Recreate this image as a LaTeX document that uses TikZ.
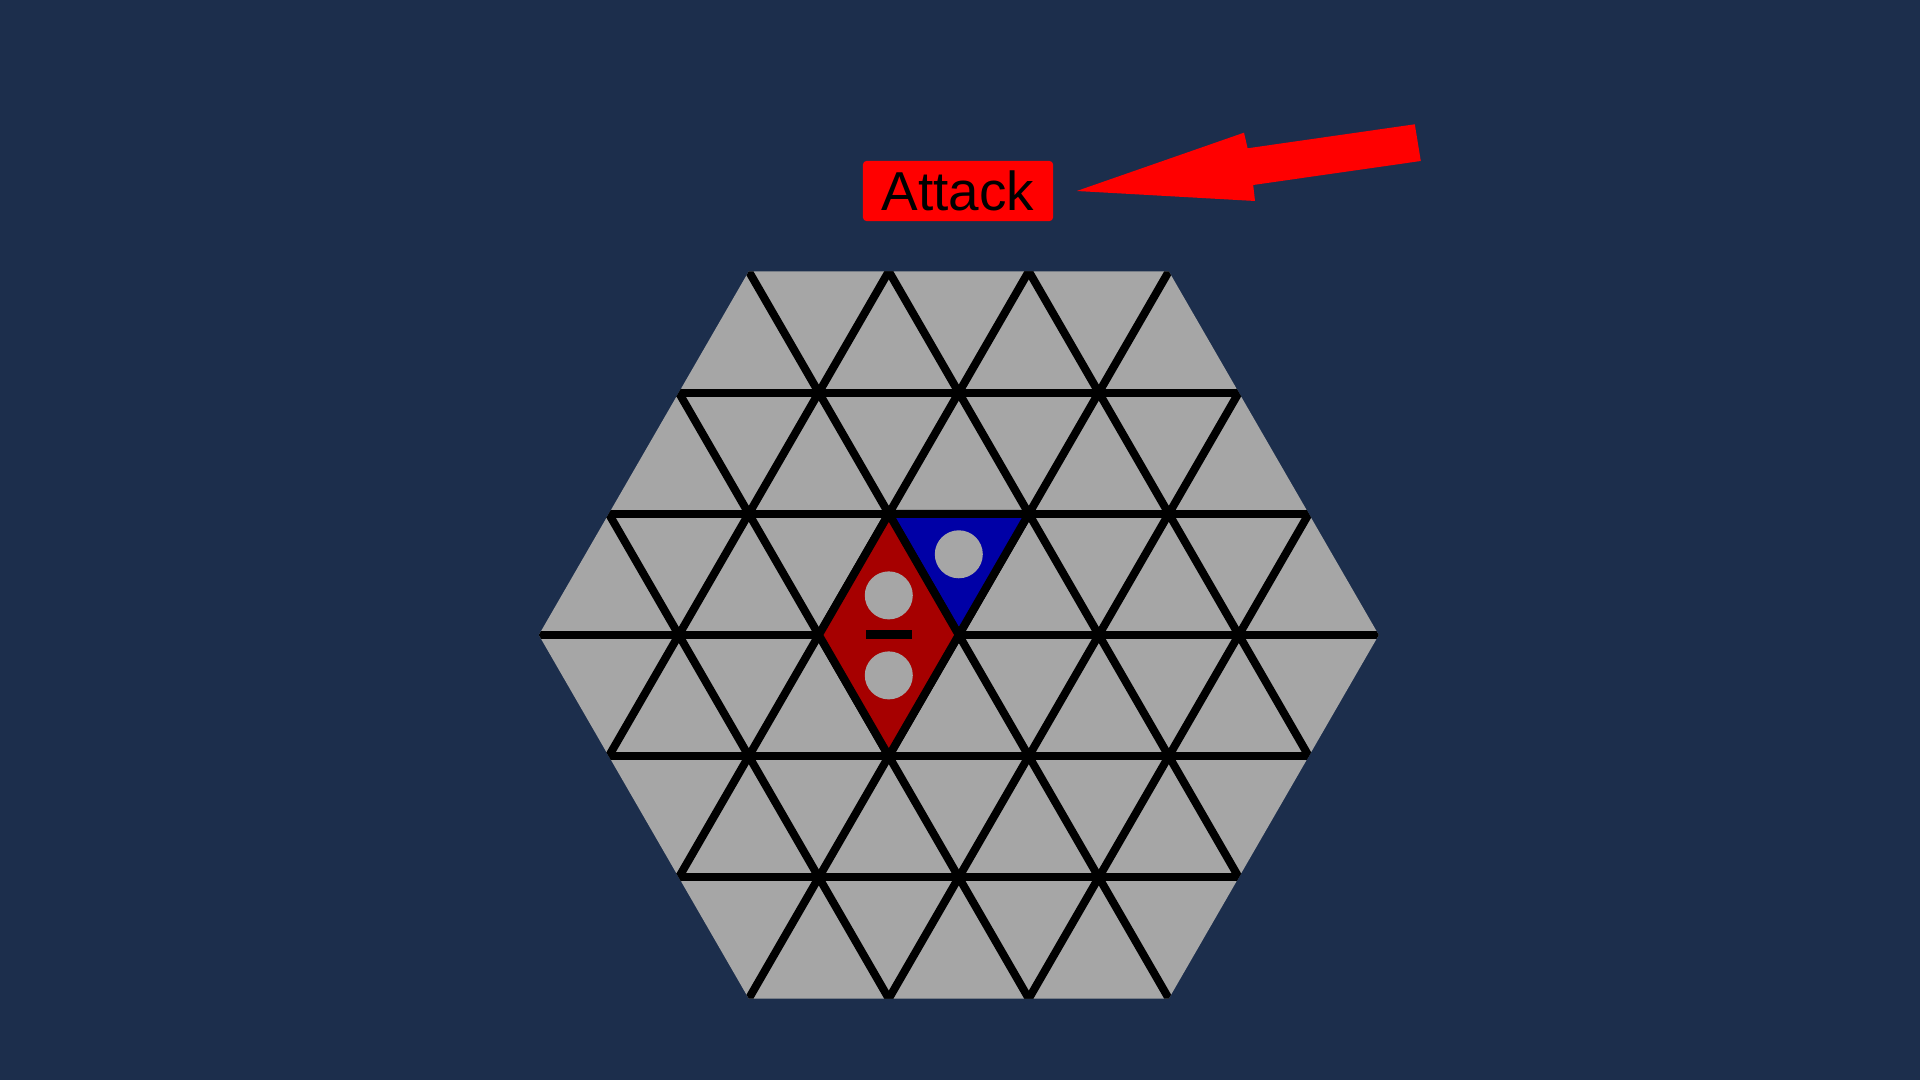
\documentclass[tikz,border=0pt]{standalone}
\usepackage{fontspec}
\setmainfont{Liberation Sans}
\usetikzlibrary{calc}
\definecolor{BackClr}{HTML}{1C2E4C}
\definecolor{BoardClr}{HTML}{A6A6A6}
\definecolor{RedPieceClr}{HTML}{A60000}
\definecolor{BluePieceClr}{HTML}{0000A6}
\definecolor{AttackClr}{HTML}{FF0000}

\begin{document}
\begin{tikzpicture}[x=0.01cm,y=-0.01cm,
  gridline/.style={line width=0.08cm,color=black},
  piece/.style={draw=black,line width=0.08cm,line join=miter},
  hole/.style={fill=BoardClr},
  tagbox/.style={fill=AttackClr,rounded corners=1pt,inner sep=0pt,
    minimum width=1.9cm,minimum height=0.6cm,
    font=\fontsize{15.6}{18}\selectfont}]

\fill[BackClr] (0,0) rectangle (1920,1080);
\useasboundingbox (0,0) rectangle (1920,1080);

% board corners
\coordinate (O) at (958.8,635);
\coordinate (H1) at (538.8,635);
\coordinate (H2) at (748.8,271.3);
\coordinate (H3) at (1168.8,271.3);
\coordinate (H4) at (1378.8,635);
\coordinate (H5) at (1168.8,998.7);
\coordinate (H6) at (748.8,998.7);

\fill[BoardClr] (H1)--(H2)--(H3)--(H4)--(H5)--(H6)--cycle;

\begin{scope}
\clip (H1)--(H2)--(H3)--(H4)--(H5)--(H6)--cycle;
\foreach \k in {-2,...,2}
  \draw[gridline] (500,635+\k*121.24) -- (1420,635+\k*121.24);
\foreach \m in {-2,...,2}{
  \draw[gridline] (958.8+\m*140+231,235) -- (958.8+\m*140-231,1035);
  \draw[gridline] (958.8+\m*140-231,235) -- (958.8+\m*140+231,1035);
}
\end{scope}

% pieces
\coordinate (T) at (888.8,513.8);
\coordinate (L) at (818.8,635);
\coordinate (B) at (888.8,756.2);
\coordinate (R) at (958.8,635);
\coordinate (E) at (1028.8,513.8);

\filldraw[piece,fill=BluePieceClr] (T)--(E)--(R)--cycle;
\filldraw[piece,fill=RedPieceClr] (T)--(L)--(B)--(R)--cycle;

\fill[hole] (958.8,554.3) circle (24);
\fill[hole] (888.8,595.4) circle (24);
\fill[hole] (888.8,675.4) circle (24);
\fill[black] (865.8,630.5) rectangle (911.8,639.5);

% attack label and arrow
\node[tagbox] (attack) at (958,191) {Attack};
\coordinate (tip) at ([xshift=0.23cm]attack.east);

\fill[AttackClr] (tip) -- (1244,132.7) -- (1247.6,148.3) -- (1414.8,124.3)
  -- (1420.8,161) -- (1253.2,185) -- (1255,201) -- cycle;

\end{tikzpicture}
\end{document}
